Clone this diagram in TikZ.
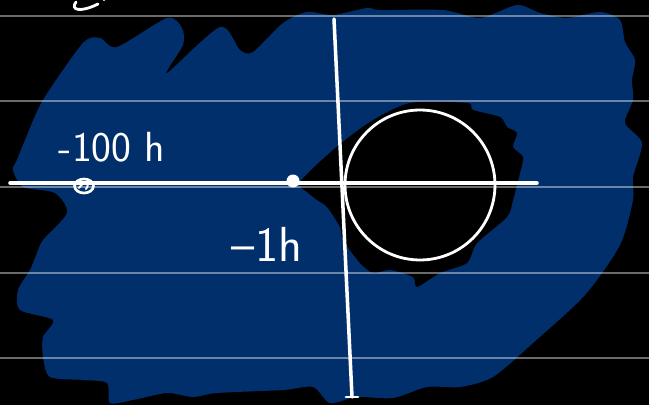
\documentclass[tikz,border=0pt]{standalone}
\usepackage{tikz}
\usetikzlibrary{positioning,calc,shapes.geometric}
\definecolor{inkblue}{RGB}{0,47,108}
\tikzset{
    rule/.style  = {draw=white, opacity=0.42, line width=0.8pt},
    axis/.style  = {draw=white, line width=2pt, line cap=round},
    pen/.style   = {draw=white, line width=1.6pt, line cap=round, line join=round},
    hand/.style  = {text=white, inner sep=0pt, font=\sffamily\fontsize{24}{24}\selectfont},
    pole/.style  = {circle, fill=white, inner sep=0pt, minimum size=0.26cm}
}
\begin{document}
\begin{tikzpicture}[x=0.02cm, y=-0.02cm]
        % Background
        \fill[black] (0,0) rectangle (649,405);
        \useasboundingbox (0,0) rectangle (649,405);

        % Shaded region
        \fill[inkblue] plot[smooth cycle, tension=0.45] coordinates {
            (25,140) (43,100) (83,43) (100,38) (117,47) (167,18) (182,28) (183,45)
            (167,73) (220,27) (240,50) (253,52) (283,23) (307,12) (333,15) (367,8)
            (380,10) (443,10) (480,18) (517,5) (540,13) (567,18) (600,12) (620,20)
            (625,42) (635,60) (632,80) (633,100) (625,123) (642,143) (633,177)
            (633,200) (620,245) (585,295) (533,343) (493,377) (460,387) (427,387)
            (393,398) (357,397) (330,403) (313,387) (283,390) (217,393) (193,397)
            (167,393) (133,400) (110,403) (107,383) (83,380) (50,377) (43,357)
            (43,337) (53,320) (20,310) (18,290) (30,270) (37,253) (43,240)
            (67,213) (55,193) (23,187) (13,170) (17,160)};
        % Hole round the circle
        \fill[black] plot[smooth cycle, tension=0.45] coordinates {
            (300,182) (333,150) (370,122) (410,103) (467,103) (473,110) (500,117)
            (507,127) (517,133) (513,147) (523,157) (520,173) (513,200) (507,217)
            (477,243) (467,263) (440,273) (417,287) (413,277) (390,270) (373,273)
            (360,263) (343,240) (340,227) (327,207) (317,200) (307,192)};

        % Ruled lines
        \foreach \y in {16,101,187,273,358}
            \draw[rule] (0,\y) -- (649,\y);

        % Axes
        \coordinate (re-left)  at (10,183);
        \coordinate (re-right) at (537,183);
        \coordinate (im-top)   at (334,19);
        \coordinate (im-bot)   at (352,397);
        \draw[axis] (re-left) -- (re-right);
        \draw[axis] (im-top) -- (im-bot);
        \draw[pen] ($(im-bot)+(-6,0)$) -- ($(im-bot)+(6,0)$);

        % Unit circle
        \node[draw=white, line width=1.6pt, circle, minimum size=3cm, inner sep=0pt] (unit) at (420,185) {};

        % Poles
        \node[pole] (p-one) at (293,181) {};
        \node[draw=white, line width=1.5pt, ellipse, minimum width=0.38cm, minimum height=0.28cm, inner sep=0pt] (p-hundred) at (84,186) {};
        \draw[pen, line width=1.1pt] (79,188) .. controls (84,180) and (91,183) .. (86,189);

        % Labels
        \node[hand] (l-hundred) at (112,147) {-100 h};
        \node[hand, font=\sffamily\fontsize{28}{28}\selectfont] (l-one) at (267,244) {--1h};

        % Cut-off stroke at the top
        \draw[pen] (76,2) .. controls (70,10) and (80,13) .. (98,4);
        \fill[white] (104,0) circle (1.2);
\end{tikzpicture}
\end{document}
